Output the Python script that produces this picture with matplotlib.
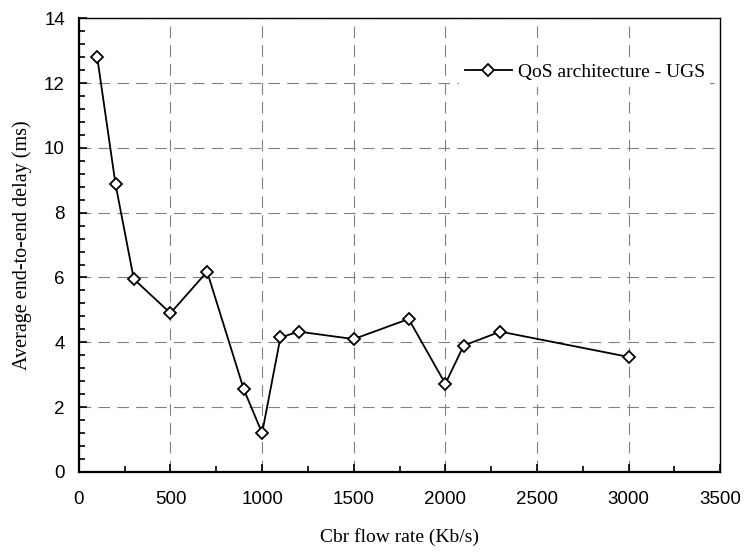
import numpy as np
import matplotlib.pyplot as plt
from matplotlib.ticker import MultipleLocator

# flow rate (Kb/s) vs average end-to-end delay (ms)
rate = [100, 200, 300, 500, 700, 900, 1000, 1100, 1200, 1500, 1800, 2000, 2100, 2300, 3000]
delay = [12.8, 8.88, 5.95, 4.9, 6.18, 2.55, 1.2, 4.15, 4.33, 4.1, 4.72, 2.72, 3.9, 4.33, 3.55]

serif = ['Liberation Serif', 'DejaVu Serif']
sans = ['Liberation Sans', 'DejaVu Sans']

fig = plt.figure(figsize=(7.44, 5.52), dpi=100)
ax = fig.add_axes([0.106, 0.145, 0.862, 0.822])

ax.plot(rate, delay, color='black', linewidth=1.3, marker='D', markersize=6.5,
        markerfacecolor='white', markeredgecolor='black', markeredgewidth=1.3,
        label='QoS architecture - UGS', zorder=3)

ax.set_xlim(0, 3500)
ax.set_ylim(0, 14)
ax.xaxis.set_major_locator(MultipleLocator(500))
ax.xaxis.set_minor_locator(MultipleLocator(250))
ax.yaxis.set_major_locator(MultipleLocator(2))
ax.yaxis.set_minor_locator(MultipleLocator(0.4))

ax.grid(True, which='major', color='#808080', linestyle=(0, (10.5, 6.5)), linewidth=0.8)
ax.tick_params(which='both', direction='in', top=False, right=False, width=1.2)
ax.tick_params(which='major', length=6, labelsize=13.5)
ax.tick_params(axis='x', which='major', pad=14)
ax.tick_params(axis='y', which='major', pad=10)
ax.tick_params(which='minor', length=4)
for lab in ax.get_xticklabels() + ax.get_yticklabels():
    lab.set_family(sans)
for sp in ax.spines.values():
    sp.set_linewidth(1.0)
ax.spines['left'].set_linewidth(1.6)
ax.spines['bottom'].set_linewidth(1.6)

ax.set_xlabel('Cbr flow rate (Kb/s)', family=serif, fontsize=14, labelpad=14)
ax.set_ylabel('Average end-to-end delay (ms)', family=serif, fontsize=14.5, labelpad=9)

leg = ax.legend(loc='upper right', bbox_to_anchor=(1.0, 0.935), frameon=True,
                prop={'family': serif, 'size': 14}, handlelength=2.4,
                handletextpad=0.3, borderpad=0.3, fancybox=False)
leg.get_frame().set_edgecolor('none')
leg.get_frame().set_facecolor('white')
leg.get_frame().set_alpha(1.0)

plt.savefig('out.png', dpi=100)
